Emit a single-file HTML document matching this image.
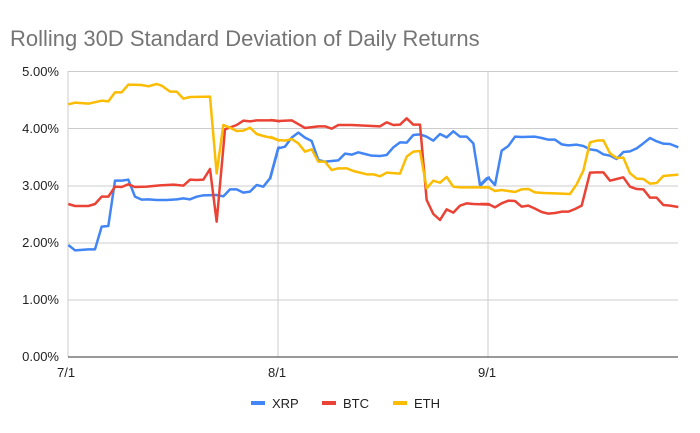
<!DOCTYPE html>
<html><head><meta charset="utf-8"><style>
html,body{margin:0;padding:0;background:#fff;}
svg{display:block;font-family:"Liberation Sans",Arial,sans-serif;}
</style></head><body>
<svg width="700" height="433" xmlns="http://www.w3.org/2000/svg">
<text x="10" y="46" font-size="22" fill="#757575">Rolling 30D Standard Deviation of Daily Returns</text>
<g stroke="#cccccc" stroke-width="1">
<line x1="68" y1="71.5" x2="678" y2="71.5"/>
<line x1="68" y1="128.5" x2="678" y2="128.5"/>
<line x1="68" y1="186" x2="678" y2="186"/>
<line x1="68" y1="243" x2="678" y2="243"/>
<line x1="68" y1="300" x2="678" y2="300"/>
<line x1="68" y1="71" x2="68" y2="357"/>
<line x1="278" y1="71" x2="278" y2="357"/>
<line x1="488" y1="71" x2="488" y2="357"/>
</g>
<line x1="68" y1="357" x2="678" y2="357" stroke="#333" stroke-width="1"/>
<g font-size="13" fill="#222" text-anchor="end">
<text x="59" y="76">5.00%</text>
<text x="59" y="133">4.00%</text>
<text x="59" y="190">3.00%</text>
<text x="59" y="247">2.00%</text>
<text x="59" y="304">1.00%</text>
<text x="59" y="361">0.00%</text>
</g>
<g font-size="13" fill="#222">
<text x="57" y="377">7/1</text>
<text x="268" y="377">8/1</text>
<text x="478" y="377">9/1</text>
</g>
<g fill="none" stroke-width="2.5" stroke-linejoin="round">
<g transform="translate(60,60) scale(0.33333)">
<polyline vector-effect="non-scaling-stroke" stroke="#4285f4" points="25,555 45,571 85,568 105,568 125,500 145,498 165,362 185,362 205,359 225,410 245,419 265,418 290,420 320,420 350,418 370,415 390,418 410,410 430,406 470,405 490,409 510,388 530,388 550,398 570,395 590,375 610,380 630,355 655,263 660,262"/>
<polyline vector-effect="non-scaling-stroke" stroke="#ea4335" points="25,432 45,438 85,438 105,432 125,410 145,410 165,380 185,381 205,373 225,381 260,380 300,376 340,374 370,377 390,359 410,360 430,359 450,327 470,485 495,208 530,195 550,182 570,184 590,181 640,181 660,184"/>
<polyline vector-effect="non-scaling-stroke" stroke="#fbbc04" points="25,133 45,128 85,131 125,122 145,124 165,97 185,97 205,74 245,75 265,79 290,72 305,77 330,95 350,95 370,116 390,111 450,110 470,340 490,195 510,203 530,213 550,212 570,203 590,222 610,228 640,235 660,243"/>
</g>
<g transform="translate(270,60) scale(0.33333)">
<polyline vector-effect="non-scaling-stroke" stroke="#4285f4" points="0,358 25,265 45,260 65,233 85,218 105,233 125,243 145,300 165,305 205,301 225,281 245,284 265,277 285,282 305,287 330,288 350,285 370,262 390,247 410,248 430,225 450,223 470,230 490,242 510,222 530,232 550,214 570,230 590,230 610,250 630,375 650,355 660,352"/>
<polyline vector-effect="non-scaling-stroke" stroke="#ea4335" points="0,180 25,183 65,181 105,204 145,199 165,199 185,206 205,195 245,195 330,199 350,187 370,195 390,194 410,175 430,194 450,194 470,420 490,462 510,480 530,448 550,458 570,437 590,430 610,432 660,434"/>
<polyline vector-effect="non-scaling-stroke" stroke="#fbbc04" points="0,230 25,240 45,242 65,237 85,250 105,275 125,268 145,305 165,305 185,330 205,325 230,325 250,333 290,343 310,343 330,349 350,338 390,341 410,290 430,275 450,273 470,385 490,362 510,368 530,351 550,380 570,382 660,382"/>
</g>
<g transform="translate(480,60) scale(0.33333)">
<polyline vector-effect="non-scaling-stroke" stroke="#4285f4" points="0,378 25,353 45,375 65,272 85,258 105,230 125,231 165,230 185,234 205,239 225,239 245,253 265,256 290,254 310,258 330,268 350,271 370,283 390,287 410,297 430,276 450,274 470,265 490,250 510,234 530,244 550,251 570,252 595,262"/>
<polyline vector-effect="non-scaling-stroke" stroke="#ea4335" points="0,432 25,432 45,442 65,430 85,422 105,423 125,440 145,437 165,446 185,456 205,461 225,459 245,455 265,455 285,447 305,437 330,338 350,337 370,337 390,362 410,357 430,352 450,380 470,387 490,388 510,413 530,413 550,435 570,437 595,441"/>
<polyline vector-effect="non-scaling-stroke" stroke="#fbbc04" points="0,382 25,382 45,393 65,390 105,396 125,388 145,387 165,397 190,399 225,400 270,402 290,373 310,332 330,247 350,242 370,241 390,280 410,294 430,293 450,340 470,356 490,357 510,371 530,369 550,348 570,346 595,344"/>
</g>
</g>
<g font-size="13" fill="#222">
<rect x="251" y="401" width="14" height="4" fill="#4285f4"/>
<text x="272" y="408">XRP</text>
<rect x="322" y="401" width="14" height="4" fill="#ea4335"/>
<text x="343" y="408">BTC</text>
<rect x="393" y="401" width="14" height="4" fill="#fbbc04"/>
<text x="414" y="408">ETH</text>
</g>
</svg>
</body></html>
